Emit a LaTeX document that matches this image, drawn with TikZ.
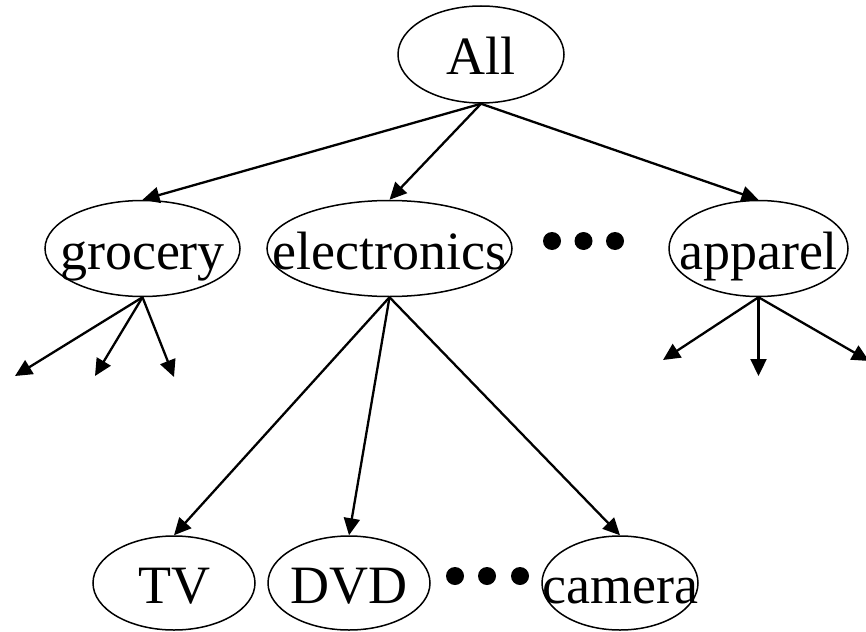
\documentclass[tikz,border=0pt]{standalone}
\usepackage{fontspec}
\setmainfont{Liberation Serif}
\usetikzlibrary{shapes.geometric,arrows.meta}
\begin{document}
\begin{tikzpicture}[x=1pt,y=-1pt,
  oval/.style={draw, ellipse, line width=1.5pt, inner sep=0pt, minimum height=96pt,
    font=\fontsize{54}{62}\selectfont, text height=41pt, text depth=0pt},
  edge/.style={line width=2.3pt, -{Triangle[length=17pt,width=16pt]}},
  dot/.style={circle, fill, inner sep=0pt, minimum size=18pt}]
\useasboundingbox (0,0) rectangle (866,631);
% nodes
\node[oval, minimum width=166pt, minimum height=97pt] (all) at (481,54.5) {\makebox[0pt]{All}};
\node[oval, minimum width=195pt] (grocery) at (142.5,248.5) {\makebox[0pt]{grocery}};
\node[oval, minimum width=245pt] (electronics) at (389.5,248.5) {\makebox[0pt]{electronics}};
\node[oval, minimum width=179pt] (apparel) at (758.5,248.5) {\makebox[0pt]{apparel}};
\node[oval, minimum width=162pt, minimum height=94pt] (tv) at (174,583) {\makebox[0pt]{TV}};
\node[oval, minimum width=162pt, minimum height=94pt] (dvd) at (349,583) {\makebox[0pt]{DVD}};
\node[oval, minimum width=156pt, minimum height=94pt] (camera) at (620,583) {\makebox[0pt]{camera}};
% ellipsis dots
\node[dot] (d1) at (552,241) {};
\node[dot] (d2) at (583.5,241) {};
\node[dot] (d3) at (615,241) {};
\node[dot] (e1) at (455,576) {};
\node[dot] (e2) at (487,576) {};
\node[dot] (e3) at (520,576) {};
% free ends
\coordinate (g1) at (15,376);
\coordinate (g2) at (95,376);
\coordinate (g3) at (174,377);
\coordinate (a1) at (663,360);
\coordinate (a2) at (758.5,376);
\coordinate (a3) at (869,361);
% edges
\draw[edge] (all.south) -- (grocery.north);
\draw[edge] (all.south) -- (electronics.north);
\draw[edge] (all.south) -- (apparel.north);
\draw[edge] (grocery.south) -- (g1);
\draw[edge] (grocery.south) -- (g2);
\draw[edge] (grocery.south) -- (g3);
\draw[edge] (apparel.south) -- (a1);
\draw[edge] (apparel.south) -- (a2);
\draw[edge] (apparel.south) -- (a3);
\draw[edge] (electronics.south) -- (tv.north);
\draw[edge] (electronics.south) -- (dvd.north);
\draw[edge] (electronics.south) -- (camera.north);
\end{tikzpicture}
\end{document}
